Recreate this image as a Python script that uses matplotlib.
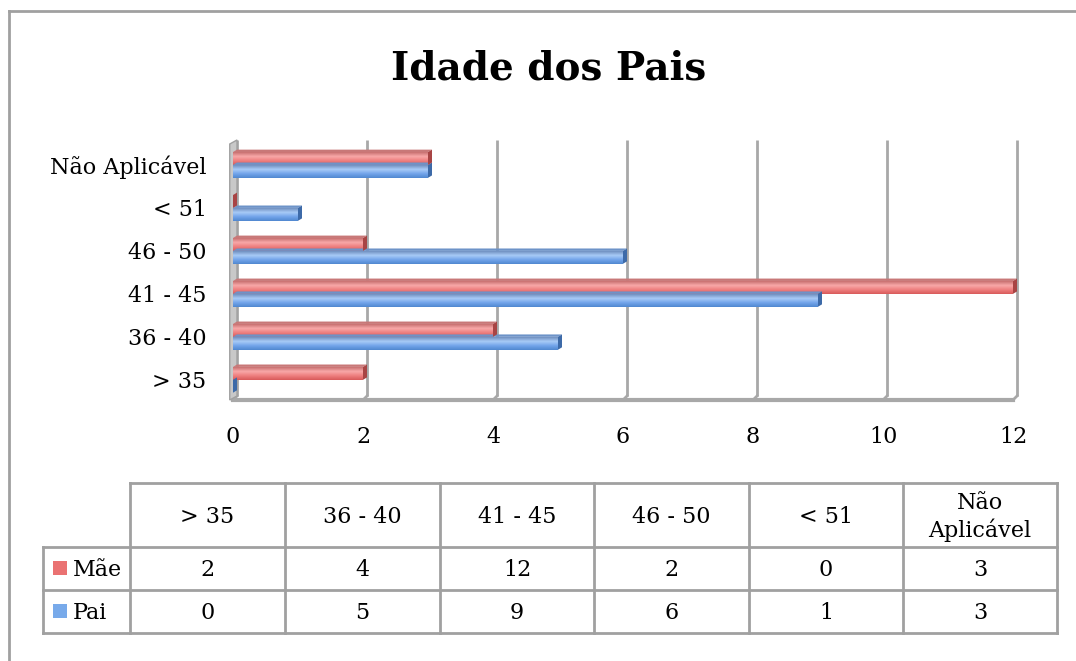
import matplotlib
matplotlib.use("Agg")
import matplotlib.pyplot as plt
import numpy as np
from matplotlib.patches import Polygon, Rectangle
from matplotlib.lines import Line2D
from matplotlib.colors import LinearSegmentedColormap

categories = ["> 35", "36 - 40", "41 - 45", "46 - 50", "< 51", "Não\nAplicável"]
ylabels = ["> 35", "36 - 40", "41 - 45", "46 - 50", "< 51", "Não Aplicável"]
mae = [2, 4, 12, 2, 0, 3]
pai = [0, 5, 9, 6, 1, 3]
xticks = [0, 2, 4, 6, 8, 10, 12]
title = "Idade dos Pais"

FONT = "DejaVu Serif"
plt.rcParams['font.family'] = [FONT]

W, H = 1076, 661
fig = plt.figure(figsize=(W / 100, H / 100), dpi=100)

def fx(px):
    return px / W

def fy(py):
    return 1 - py / H

# outer border
fig.add_artist(Line2D([fx(9), fx(1076)], [fy(11), fy(11)], color="#a0a0a0", lw=2))
fig.add_artist(Line2D([fx(9), fx(9)], [fy(11), fy(661)], color="#a0a0a0", lw=2))

fig.text(fx(549), fy(68), title, ha="center", va="center", fontsize=28,
         fontweight="bold", color="black")

# plot axes
x0p, x1p, y0p, y1p = 233, 1013, 140, 400
ax = fig.add_axes([fx(x0p), fy(y1p), fx(x1p - x0p), (y1p - y0p) / H])
ax.set_xlim(0, 12)
ax.set_ylim(-0.47, 5.58)
for s in ax.spines.values():
    s.set_visible(False)
ax.set_facecolor("none")

ypos = np.arange(len(categories))
bh = 0.3
dx, dy = 4 / 65, 4 / 43

# gridlines (back wall lines)
for t in xticks:
    ax.plot([t + dx, t + dx], [-0.47 + dy, 5.58], color="#a8a8a8", lw=2, zorder=1,
            solid_capstyle="butt", clip_on=False)
    ax.plot([t, t + dx], [-0.47, -0.47 + dy], color="#a8a8a8", lw=2, zorder=1, clip_on=False)
# floor
ax.plot([0, 12], [-0.465, -0.465], color="#a8a8a8", lw=3, zorder=1, clip_on=False)
# left wall
ax.add_patch(Polygon([[-0.05, -0.47], [dx, -0.47 + dy], [dx, 5.58], [-0.05, 5.58 - dy]],
                     closed=True, facecolor="#c8c8c8", edgecolor="#a0a0a0", lw=1,
                     zorder=1.5, clip_on=False))

red_cmap = LinearSegmentedColormap.from_list("r", ["#d85a5a", "#ee7f7f", "#f8a8a8", "#c87070"])
blue_cmap = LinearSegmentedColormap.from_list("b", ["#5088d0", "#72a4ea", "#a8cbf7", "#7090c0"])
grad = np.linspace(0, 1, 64).reshape(-1, 1)

def draw(vals, offset, cmap, capc, topc):
    bars = ax.barh(ypos + offset, vals, height=bh, color="none", edgecolor="none", zorder=3)
    for b, v in zip(bars, vals):
        y = b.get_y()
        h = b.get_height()
        w = b.get_width()
        if w > 0:
            im = ax.imshow(grad, extent=[0, w, y, y + h], origin="lower", aspect="auto",
                           cmap=cmap, zorder=3, interpolation="bilinear")
            im.set_clip_path(b)
            # top face
            ax.add_patch(Polygon([[0, y + h], [dx, y + h + dy * 0.6], [w + dx, y + h + dy * 0.6], [w, y + h]],
                                 closed=True, facecolor=topc, edgecolor="none", zorder=3.1,
                                 clip_on=False))
        # right cap
        ax.add_patch(Polygon([[w, y], [w + dx, y + dy * 0.6], [w + dx, y + h + dy * 0.6], [w, y + h]],
                             closed=True, facecolor=capc, edgecolor="none", zorder=3.2,
                             clip_on=False))
    return bars

draw(pai, -bh / 2, blue_cmap, "#3d6aa8", "#6d93c8")
draw(mae, bh / 2, red_cmap, "#a84444", "#c87878")
ax.set_xlim(0, 12)
ax.set_ylim(-0.47, 5.58)

fs = 16
ax.set_xticks(xticks)
ax.set_xticklabels([str(t) for t in xticks], fontsize=fs)
ax.set_yticks(ypos)
ax.set_yticklabels(ylabels, fontsize=fs)
ax.tick_params(length=0, pad=19, axis="x")
ax.tick_params(length=0, pad=19, axis="y")

# data table
col_edges = [130, 285, 440, 594, 749, 903, 1057]
row_edges = [483, 547, 590, 633]
lab_x = 43
lc = "#a0a0a0"
fig.add_artist(Line2D([fx(130), fx(1057)], [fy(483), fy(483)], color=lc, lw=2))
for r in row_edges[1:]:
    fig.add_artist(Line2D([fx(lab_x), fx(1057)], [fy(r), fy(r)], color=lc, lw=2))
fig.add_artist(Line2D([fx(lab_x), fx(lab_x)], [fy(547), fy(633)], color=lc, lw=2))
for c in col_edges:
    fig.add_artist(Line2D([fx(c), fx(c)], [fy(483), fy(633)], color=lc, lw=2))

for i, cat in enumerate(categories):
    cx = (col_edges[i] + col_edges[i + 1]) / 2
    fig.text(fx(cx), fy(517), cat, ha="center", va="center", fontsize=fs,
             linespacing=1.25)
    fig.text(fx(cx), fy(570), str(mae[i]), ha="center", va="center", fontsize=fs)
    fig.text(fx(cx), fy(613), str(pai[i]), ha="center", va="center", fontsize=fs)

# legend keys
fig.add_artist(Rectangle((fx(53), fy(575)), 14 / W, 14 / H, transform=fig.transFigure,
                         facecolor="#ea7272", edgecolor="none"))
fig.add_artist(Rectangle((fx(53), fy(618)), 14 / W, 14 / H, transform=fig.transFigure,
                         facecolor="#78aaea", edgecolor="none"))
fig.text(fx(73), fy(570), "Mãe", ha="left", va="center", fontsize=fs)
fig.text(fx(73), fy(613), "Pai", ha="left", va="center", fontsize=fs)

fig.savefig("out.png", dpi=100)
